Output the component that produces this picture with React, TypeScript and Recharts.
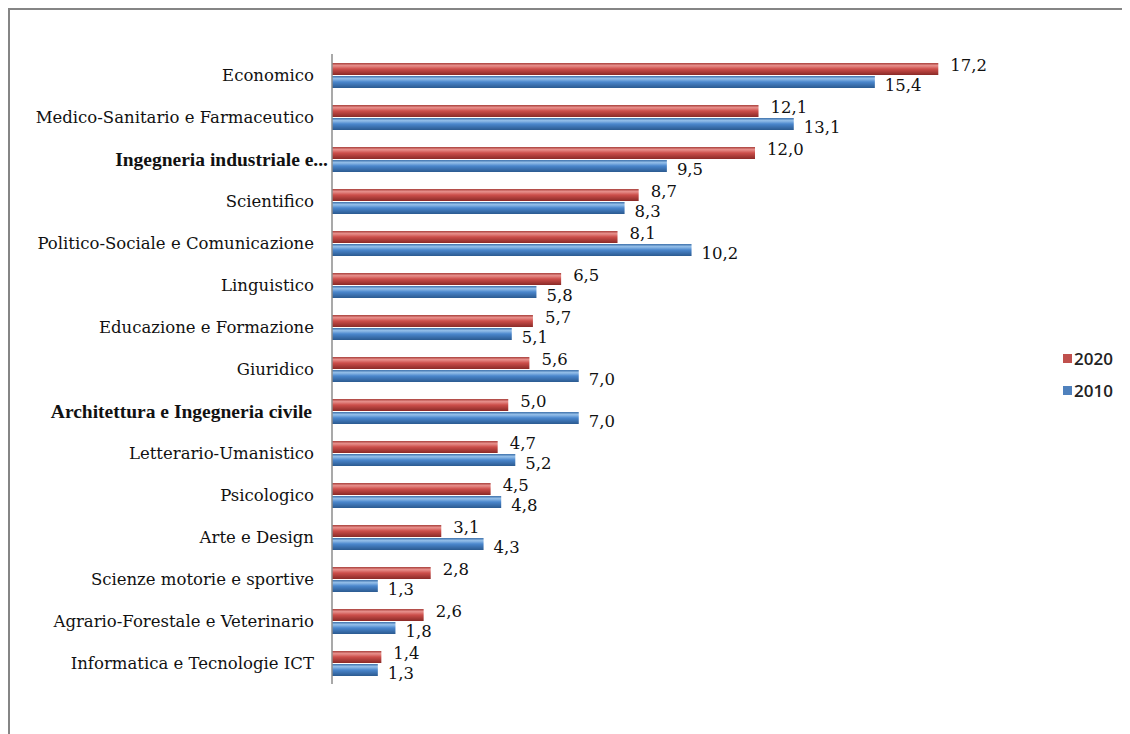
import { Bar, BarChart, LabelList, XAxis, YAxis } from "recharts";

// Settori disciplinari, quote % 2020 vs 2010
const categories = [
  "Economico",
  "Medico-Sanitario e Farmaceutico",
  "Ingegneria industriale e...",
  "Scientifico",
  "Politico-Sociale e Comunicazione",
  "Linguistico",
  "Educazione e Formazione",
  "Giuridico",
  "Architettura e Ingegneria civile",
  "Letterario-Umanistico",
  "Psicologico",
  "Arte e Design",
  "Scienze motorie e sportive",
  "Agrario-Forestale e Veterinario",
  "Informatica e Tecnologie ICT",
];
const values2020 = [17.2, 12.1, 12.0, 8.7, 8.1, 6.5, 5.7, 5.6, 5.0, 4.7, 4.5, 3.1, 2.8, 2.6, 1.4];
const values2010 = [15.4, 13.1, 9.5, 8.3, 10.2, 5.8, 5.1, 7.0, 7.0, 5.2, 4.8, 4.3, 1.3, 1.8, 1.3];
const boldCategories = ["Ingegneria industriale e...", "Architettura e Ingegneria civile"];
const seriesNames = ["2020", "2010"];

const data = categories.map((name, i) => ({ name, y2020: values2020[i], y2010: values2010[i] }));

const SERIF = "'DejaVu Serif', 'Liberation Serif', serif";
const BOLD_SERIF = "'Liberation Serif', serif";
const RED = "#C0504D";
const BLUE = "#4F81BD";
const fmt = (v: number) => v.toFixed(1).replace(".", ",");

function CategoryTick(props: any) {
  const { x, y, payload } = props;
  const bold = boldCategories.includes(payload.value);
  // the truncated label sits right against the axis in the original
  const shift = payload.value.endsWith("...") ? 4 : bold ? -12 : -10;
  return (
    <text
      x={x + shift}
      y={y}
      textAnchor="end"
      dominantBaseline="central"
      fontFamily={bold ? BOLD_SERIF : SERIF}
      fontSize={bold ? 19.5 : 16.5}
      fontWeight={bold ? 700 : 400}
      fill="#111"
    >
      {payload.value}
    </text>
  );
}

const valueLabel = (dx: number, dy: number) => (props: any) => {
  const { x, y, width, height, value } = props;
  return (
    <text
      x={x + width + dx}
      y={y + height / 2 + dy}
      dominantBaseline="central"
      fontFamily={SERIF}
      fontSize={16.5}
      fill="#111"
    >
      {fmt(value)}
    </text>
  );
};

function LegendBox() {
  const colors = [RED, BLUE];
  return (
    <div
      style={{
        position: "absolute",
        left: 1055,
        top: 334,
        fontFamily: "'Open Sans', sans-serif",
        fontSize: 17,
        fontWeight: 600,
        color: "#222",
      }}
    >
      {seriesNames.map((label, i) => (
        <div key={label} style={{ display: "flex", alignItems: "center", height: 32 }}>
          <span style={{ width: 9, height: 9, background: colors[i], marginRight: 2, display: "inline-block" }} />
          <span>{label}</span>
        </div>
      ))}
    </div>
  );
}

export default function App() {
  return (
    <div style={{ position: "relative", width: 1122, height: 726, background: "#fff" }}>
      <div
        style={{
          position: "absolute",
          inset: 0,
          borderTop: "2px solid #858585",
          borderLeft: "2px solid #858585",
        }}
      />
      <div style={{ position: "absolute", left: 0, top: 0 }}>
        <BarChart
          width={1122}
          height={726}
          data={data}
          layout="vertical"
          margin={{ top: 46, right: 93, bottom: 50, left: 0 }}
          barSize={12}
          barGap={1}
        >
          <defs>
            <linearGradient id="gRed" x1="0" y1="0" x2="0" y2="1">
              <stop offset="0%" stopColor="#A8403C" />
              <stop offset="22%" stopColor="#E8908C" />
              <stop offset="50%" stopColor="#CC4E4A" />
              <stop offset="100%" stopColor="#8A2A27" />
            </linearGradient>
            <linearGradient id="gBlue" x1="0" y1="0" x2="0" y2="1">
              <stop offset="0%" stopColor="#3D70AA" />
              <stop offset="22%" stopColor="#95C0EA" />
              <stop offset="50%" stopColor="#4A86CC" />
              <stop offset="100%" stopColor="#2B5A90" />
            </linearGradient>
          </defs>
          <XAxis type="number" domain={[0, 20]} hide />
          <YAxis
            type="category"
            dataKey="name"
            width={324}
            axisLine={{ stroke: "#8c8c8c", strokeWidth: 1.5 }}
            tickLine={false}
            interval={0}
            tick={<CategoryTick />}
          />
          <Bar dataKey="y2020" name={seriesNames[0]} fill="url(#gRed)" isAnimationActive={false}>
            <LabelList dataKey="y2020" content={valueLabel(12, -4)} />
          </Bar>
          <Bar dataKey="y2010" name={seriesNames[1]} fill="url(#gBlue)" isAnimationActive={false}>
            <LabelList dataKey="y2010" content={valueLabel(10, 3)} />
          </Bar>
        </BarChart>
      </div>
      <LegendBox />
    </div>
  );
}
